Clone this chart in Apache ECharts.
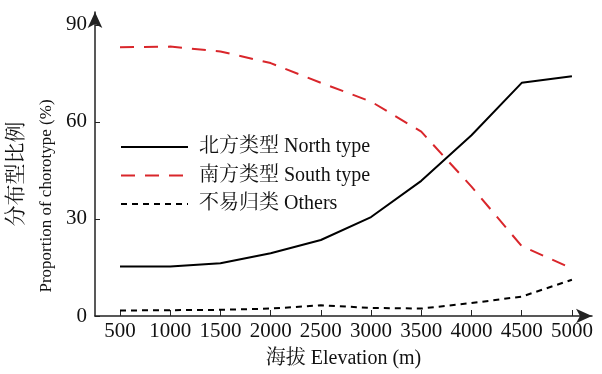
<!DOCTYPE html>
<html>
<head>
<meta charset="utf-8">
<script src="https://cdn.jsdelivr.net/npm/echarts@6/dist/echarts.min.js"></script>
<style>html,body{margin:0;padding:0;background:#fff}#c{width:602px;height:374px}</style>
</head>
<body>
<div id="c"></div>
<script>
var elevations = [500, 1000, 1500, 2000, 2500, 3000, 3500, 4000, 4500, 5000];
var northType = [15.3, 15.3, 16.3, 19.4, 23.5, 30.6, 41.8, 55.9, 72.1, 74.1];
var southType = [83.1, 83.3, 81.8, 78.2, 72.1, 66.3, 57.0, 40.0, 21.6, 14.7];
var others = [1.7, 1.8, 1.9, 2.3, 3.3, 2.5, 2.3, 4.0, 6.0, 11.2];
var xTicks = [500, 1000, 1500, 2000, 2500, 3000, 3500, 4000, 4500, 5000];
var yTicks = [0, 30, 60, 90];
var seriesNames = ['北方类型 North type', '南方类型 South type', '不易归类 Others'];

var FONT = '"Liberation Serif", "Noto Serif CJK SC", "Noto Sans CJK SC", serif';
function pairs(ys) { return elevations.map(function (x, i) { return [x, ys[i]]; }); }
function plain(v) { return String(v); }

var chart = echarts.init(document.getElementById('c'), null, { renderer: 'canvas' });
chart.setOption({
  backgroundColor: '#fff',
  animation: false,
  grid: { left: 95, right: 10, top: 12, bottom: 56, containLabel: false },
  legend: {
    orient: 'vertical', left: 120, top: 137, padding: 0, itemWidth: 67, itemHeight: 20, itemGap: 8.5,
    itemStyle: { opacity: 0 },
    textStyle: { fontFamily: FONT, fontSize: 20, color: '#111', padding: [0, 0, 0, 6] },
    data: seriesNames
  },
  xAxis: {
    type: 'value', min: 251, max: 5200,
    axisLine: { show: true, lineStyle: { color: '#222', width: 1.5 }, symbol: ['none', 'arrow'], symbolSize: [11, 16] },
    axisTick: { show: true, inside: true, length: 6, customValues: xTicks, lineStyle: { color: '#222', width: 1 } },
    axisLabel: { customValues: xTicks, formatter: plain, fontFamily: FONT, fontSize: 21, color: '#111', margin: 5 },
    splitLine: { show: false },
    name: '海拔 Elevation (m)', nameLocation: 'middle', nameGap: 33,
    nameTextStyle: { fontFamily: FONT, fontSize: 20, color: '#111' }
  },
  yAxis: {
    type: 'value', min: 0, max: 94,
    axisLine: { show: true, lineStyle: { color: '#222', width: 1.5 }, symbol: ['none', 'arrow'], symbolSize: [11, 16] },
    axisTick: { show: true, inside: true, length: 5, customValues: yTicks, lineStyle: { color: '#222', width: 1 } },
    axisLabel: { customValues: yTicks, formatter: plain, fontFamily: FONT, fontSize: 21, color: '#111', margin: 8 },
    splitLine: { show: false }
  },
  graphic: [
    { type: 'text', rotation: Math.PI / 2, x: 16, y: 174,
      style: { text: '分布型比例', fontFamily: FONT, fontSize: 21, fill: '#111', align: 'center', verticalAlign: 'middle' } },
    { type: 'text', rotation: Math.PI / 2, x: 47, y: 196,
      style: { text: 'Proportion of chorotype (%)', fontFamily: FONT, fontSize: 17, fill: '#111', align: 'center', verticalAlign: 'middle' } }
  ],
  series: [
    { name: seriesNames[0], type: 'line', data: pairs(northType), symbol: 'none',
      lineStyle: { color: '#000', width: 2 }, itemStyle: { color: '#000' } },
    { name: seriesNames[1], type: 'line', data: pairs(southType), symbol: 'none',
      lineStyle: { color: '#d9262b', width: 2, type: [14, 10] }, itemStyle: { color: '#d9262b' } },
    { name: seriesNames[2], type: 'line', data: pairs(others), symbol: 'none',
      lineStyle: { color: '#000', width: 2, type: [6, 5] }, itemStyle: { color: '#000' } }
  ]
});
</script>
</body>
</html>
